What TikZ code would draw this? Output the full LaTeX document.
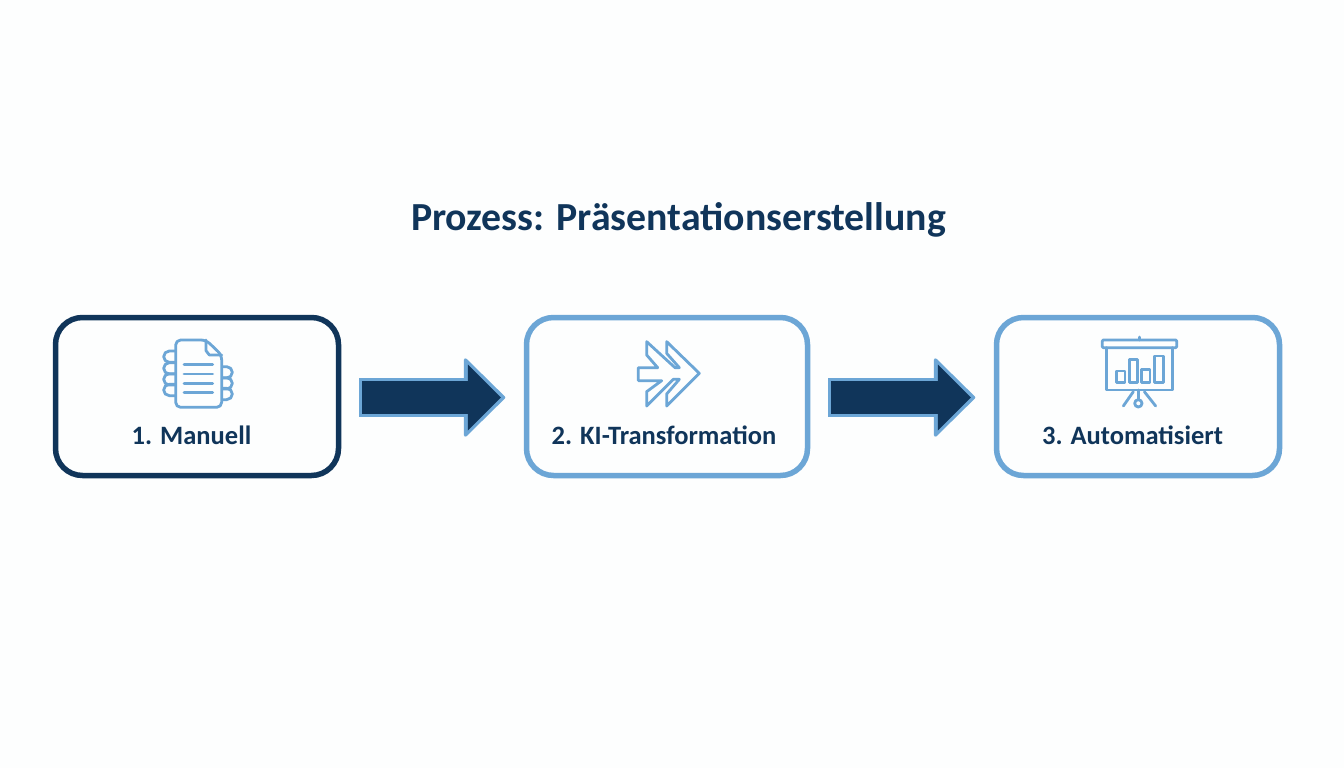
\documentclass[tikz,border=0pt]{standalone}
\usepackage{fontspec}
\setmainfont{Carlito}
\usepackage{xcolor}
\usetikzlibrary{
    arrows.meta,
    positioning
}
\definecolor{navy}{HTML}{10355A}
\definecolor{skyline}{HTML}{6CA6D6}
\definecolor{paper}{HTML}{FDFEFE}

\begin{document}
\begin{tikzpicture}[x=1pt, y=-1pt,
    stepbox/.style={draw, line width=5.5pt, rounded corners=27pt, minimum height=158pt},
    steptext/.style={text=navy, font=\fontsize{26.5}{30}\selectfont\bfseries},
    icon/.style={draw=skyline, line width=2.8pt, line join=round, line cap=round},
    flow/.style={line width=33pt, draw=navy, shorten <=21pt, shorten >=23pt,
        -{Triangle[length=33pt, width=66pt, fill=navy, color=navy, line width=0pt]},
        preaction={draw=skyline, line width=39pt, shorten <=18pt, shorten >=18.5pt,
            -{Triangle[round, length=42pt, width=82pt, fill=skyline, color=skyline, line width=3pt]}},
        postaction={draw=navy, line width=33pt, shorten <=21pt, shorten >=50pt, arrows=-}}]
    \fill[paper] (0,0) rectangle (1344,768);

    \node[text=navy, font=\fontsize{39.8}{46}\selectfont\bfseries] (title) at (678.5,220) {Prozess: Präsentationserstellung};

    \node[stepbox, draw=navy, minimum width=283pt] (manuell) at (197,396.5) {};
    \node[stepbox, draw=skyline, minimum width=281pt] (ki) at (667,396.5) {};
    \node[stepbox, draw=skyline, minimum width=283pt] (auto) at (1138,396.5) {};

    \node[steptext] (manuelltext) at (191.5,435) {1. Manuell};
    \node[steptext] (kitext) at (664,435) {2. KI-Transformation};
    \node[steptext] (autotext) at (1132.5,435) {3. Automatisiert};

    \draw[flow] ([yshift=-1pt]manuell.east) -- ([yshift=-1pt]ki.west);
    \draw[flow] ([yshift=-1pt]ki.east) -- ([yshift=-1pt]auto.west);

    \begin{scope}[shift={(130,320)}, x=1/3*1pt, y=-1/3*1pt]
        \foreach \y in {110,145,178,210}
            \draw[icon] (137,\y-17) -- (118,\y-17) arc[start angle=-90, end angle=-270, radius=17] -- (137,\y+17);
        \foreach \y in {157,190,222}
            \draw[icon] (275,\y-17) -- (290,\y-17) arc[start angle=-90, end angle=90, radius=17] -- (275,\y+17);
        \draw[icon, fill=paper, rounded corners=5pt] (137,60) -- (228,60) -- (275,105) -- (275,262) -- (137,262) -- cycle;
        \draw[icon] (228,60) -- (228,92) -- (238,105) -- (275,105);
        \foreach \y in {133,162,190,218}
            \draw[icon] (162,\y) -- (248,\y);
    \end{scope}

    \begin{scope}[shift={(610,320)}, x=1/3*1pt, y=-1/3*1pt]
        \draw[icon] (85,143) -- (143,143) -- (110,105) -- (110,65) -- (195,143) -- (208,143) -- (170,100) -- (170,65)
            -- (268,160) -- (170,258) -- (170,222) -- (208,178) -- (190,178) -- (110,258) -- (110,215) -- (155,182) -- (85,182) -- cycle;
    \end{scope}

    \begin{scope}[shift={(1085,325)}, x=1/3*1pt, y=-1/3*1pt]
        \draw[icon, rounded corners=1pt] (52,45) rectangle (275,68);
        \draw[icon] (163,36) -- (163,45);
        \draw[icon] (65,68) -- (65,195) -- (262,195) -- (262,68);
        \foreach \xa/\xb/\ytop in {95/120/138,133/158/103,170/195/133,208/235/93}
            \draw[icon] (\xa,172) rectangle (\xb,\ytop);
        \draw[icon] (160,195) -- (160,224);
        \draw[icon] (160,235) circle[radius=11];
        \draw[icon] (145,200) -- (115,243);
        \draw[icon] (178,200) -- (212,243);
    \end{scope}
\end{tikzpicture}
\end{document}
